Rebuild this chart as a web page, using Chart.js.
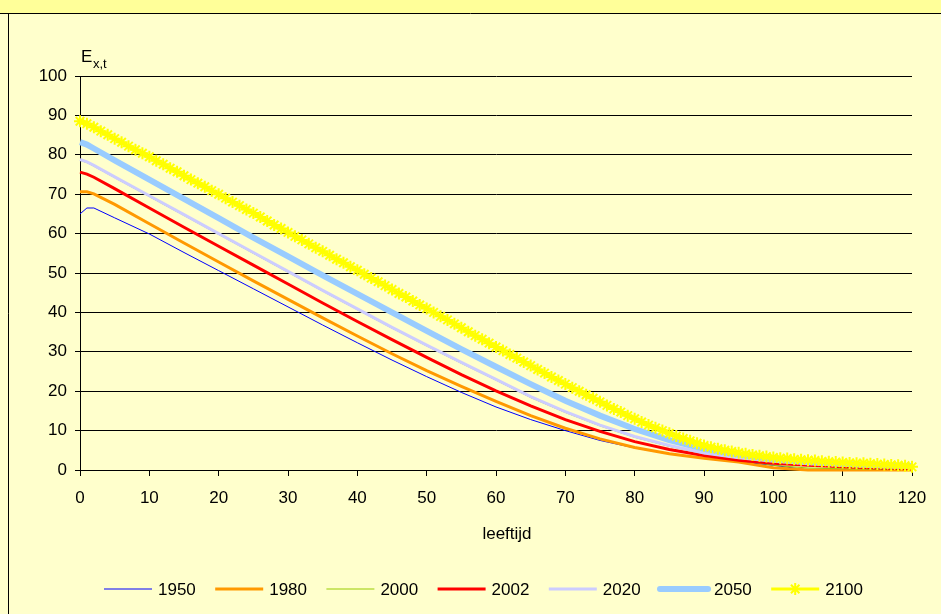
<!DOCTYPE html>
<html>
<head>
<meta charset="utf-8">
<script src="https://cdn.jsdelivr.net/npm/chart.js@4/dist/chart.umd.min.js"></script>
<style>
    html, body { margin: 0; padding: 0; background: #FFFFCC; }
    canvas { display: block; }
</style>
</head>
<body>
<canvas id="chart" width="941" height="614"></canvas>
<script>
// leeftijden (x-as)
const ages = [0, 1, 2, 5, 10, 15, 20, 25, 30, 35, 40, 45, 50, 55, 60, 65, 70, 75, 80, 85, 90, 95, 100, 105, 110, 115, 120];
const ages2100 = Array.from({ length: 121 }, (_, i) => i);

// resterende levensverwachting per jaar
const e1950 = [65.0, 66.5, 66.5, 64.0, 59.9, 55.2, 50.6, 46.0, 41.4, 36.8, 32.3, 27.9, 23.7, 19.7, 16.0, 12.8, 10.0, 7.5, 5.6, 4.1, 3.0, 2.1, 1.2, 0, 0, 0, 0];
const e1980 = [70.6, 70.6, 70.1, 67.4, 62.5, 57.6, 52.8, 48.0, 43.3, 38.6, 34.0, 29.5, 25.2, 21.2, 17.4, 13.8, 10.6, 7.9, 5.7, 4.1, 3.0, 2.0, 0.6, 0, 0, 0, 0];
const e2000 = [78.6, 78.0, 77.1, 74.2, 69.4, 64.6, 59.8, 55.0, 50.2, 45.4, 40.7, 36.0, 31.5, 27.1, 22.8, 18.4, 14.6, 11.2, 8.3, 6.0, 4.1, 2.5, 1.2, 0.5, 0.3, 0.2, 0.1];
const e2002 = [75.6, 75.1, 74.3, 71.4, 66.5, 61.6, 56.8, 52.0, 47.2, 42.4, 37.7, 33.1, 28.6, 24.2, 20.1, 16.3, 12.8, 9.8, 7.2, 5.2, 3.7, 2.5, 1.7, 1.2, 0.8, 0.5, 0.3];
const e2020 = [78.8, 78.2, 77.3, 74.4, 69.6, 64.8, 60.0, 55.2, 50.4, 45.6, 40.9, 36.2, 31.7, 27.3, 23.0, 18.6, 14.8, 11.4, 8.5, 6.2, 4.3, 3.1, 2.2, 1.6, 1.2, 0.9, 0.7];
const e2050 = [83.2, 82.6, 81.6, 78.6, 73.7, 68.8, 63.9, 59.0, 54.2, 49.4, 44.7, 40.0, 35.3, 30.7, 26.2, 21.8, 17.6, 13.8, 10.4, 7.6, 5.4, 3.9, 2.8, 2.1, 1.6, 1.2, 1.0];
const e2100 = [
    88.5, 87.9, 87.0, 86.0, 85.1, 84.1, 83.2, 82.2, 81.3, 80.4,
    79.5, 78.5, 77.6, 76.6, 75.7, 74.7, 73.7, 72.8, 71.9, 70.9,
    70.0, 69.0, 68.0, 67.1, 66.1, 65.2, 64.2, 63.2, 62.2, 61.3,
    60.3, 59.3, 58.4, 57.4, 56.4, 55.5, 54.5, 53.5, 52.6, 51.6,
    50.7, 49.7, 48.7, 47.8, 46.8, 45.8, 44.8, 43.9, 42.9, 41.9,
    41.0, 40.0, 39.0, 38.1, 37.1, 36.1, 35.1, 34.1, 33.2, 32.2,
    31.2, 30.3, 29.3, 28.4, 27.4, 26.5, 25.5, 24.6, 23.6, 22.7,
    21.8, 20.9, 20.0, 19.1, 18.2, 17.3, 16.4, 15.5, 14.7, 13.8,
    13.0, 12.2, 11.4, 10.7, 10.0, 9.3, 8.6, 8.0, 7.4, 6.8,
    6.2, 5.8, 5.4, 5.0, 4.7, 4.4, 4.1, 3.8, 3.6, 3.4,
    3.2, 3.0, 2.9, 2.7, 2.6, 2.5, 2.4, 2.2, 2.1, 2.0,
    1.9, 1.8, 1.7, 1.7, 1.6, 1.5, 1.4, 1.3, 1.2, 1.1,
    0.8
];

const seriesLabels = ['1950', '1980', '2000', '2002', '2020', '2050', '2100'];
const yTicks = [0, 10, 20, 30, 40, 50, 60, 70, 80, 90, 100];
const xTicks = [0, 10, 20, 30, 40, 50, 60, 70, 80, 90, 100, 110, 120];

const FONT = "'Liberation Sans', Arial, sans-serif";

const seriesStyle = [
    { color: '#0000FF', width: 1 },
    { color: '#FF9900', width: 3 },
    { color: '#99CC00', width: 1 },
    { color: '#FF0000', width: 3 },
    { color: '#CCCCFF', width: 3 },
    { color: '#99CCFF', width: 6 },
    { color: '#FFFF00', width: 3, star: true }
];

const seriesData = [
    [ages, e1950], [ages, e1980], [ages, e2000], [ages, e2002],
    [ages, e2020], [ages, e2050], [ages2100, e2100]
];

const datasets = seriesLabels.map((label, i) => {
    const [xs, ys] = seriesData[i];
    const st = seriesStyle[i];
    return {
        label,
        data: xs.map((x, k) => ({ x, y: ys[k] })),
        borderColor: st.color,
        backgroundColor: st.color,
        borderWidth: st.width,
        tension: 0,
        order: seriesLabels.length - i,
        clip: st.star ? false : 3,
        pointStyle: st.star ? 'star' : 'circle',
        pointRadius: st.star ? 6 : 0,
        pointBorderWidth: st.star ? 2 : 0,
        pointBorderColor: st.color,
        pointHoverRadius: st.star ? 6 : 0
    };
});

/**
 * Achtergrond, titelbalk en kader
 */
const framePlugin = {
    id: 'frame',
    beforeDraw(chart) {
        const { ctx, width, height } = chart;
        ctx.save();
        ctx.fillStyle = '#FFFFCC';
        ctx.fillRect(0, 0, width, height);
        ctx.fillStyle = '#FFFF99';
        ctx.fillRect(0, 0, width, 13);
        ctx.strokeStyle = '#000';
        ctx.lineWidth = 1;
        ctx.beginPath();
        ctx.moveTo(0, 13.5);
        ctx.lineTo(width, 13.5);
        ctx.moveTo(8.5, 13.5);
        ctx.lineTo(8.5, height);
        ctx.stroke();
        ctx.restore();
    }
};

/**
 * Aslabels en legenda
 */
const labelsPlugin = {
    id: 'labels',
    afterDraw(chart) {
        const { ctx } = chart;
        ctx.save();
        ctx.fillStyle = '#000';
        ctx.textBaseline = 'alphabetic';
        ctx.textAlign = 'left';
        ctx.font = `17px ${FONT}`;
        ctx.fillText('E', 81, 62);
        ctx.font = `13px ${FONT}`;
        ctx.fillText('x,t', 93, 68);

        ctx.font = `17px ${FONT}`;
        ctx.textAlign = 'center';
        ctx.textBaseline = 'middle';
        ctx.fillText('leeftijd', 507, 534);

        // legenda
        const y = 589;
        chart.data.datasets.forEach((ds, i) => {
            const st = seriesStyle[i];
            const x0 = 104 + i * 111.2;
            ctx.strokeStyle = st.color;
            ctx.lineWidth = st.width;
            ctx.lineCap = st.width >= 6 ? 'round' : 'butt';
            ctx.beginPath();
            ctx.moveTo(x0, y);
            ctx.lineTo(x0 + 48, y);
            ctx.stroke();
            if (st.star) {
                ctx.lineWidth = 2;
                Chart.helpers.drawPoint(ctx, { pointStyle: 'star', radius: 6, borderWidth: 2, rotation: 0 }, x0 + 24, y);
            }
            ctx.fillStyle = '#000';
            ctx.textAlign = 'left';
            ctx.fillText(ds.label, x0 + 54, y + 1);
        });
        ctx.restore();
    }
};

const ctx = document.getElementById('chart').getContext('2d');
new Chart(ctx, {
    type: 'line',
    data: { datasets },
    options: {
        responsive: false,
        animation: false,
        devicePixelRatio: 1,
        layout: { padding: { left: 0, top: 76, right: 29, bottom: 64 } },
        plugins: {
            legend: { display: false },
            tooltip: { enabled: false },
            title: { display: false }
        },
        scales: {
            x: {
                type: 'linear',
                min: 0,
                max: 120,
                afterFit: (scale) => { scale.height = 80; },
                afterBuildTicks: (scale) => { scale.ticks = xTicks.map(v => ({ value: v })); },
                grid: { drawOnChartArea: false, drawTicks: true, tickLength: 6, color: '#000' },
                border: { display: true, color: '#000', width: 1 },
                ticks: { color: '#000', font: { family: FONT, size: 17 }, padding: 12, maxRotation: 0 }
            },
            y: {
                min: 0,
                max: 100,
                afterFit: (scale) => { scale.width = 80; },
                afterBuildTicks: (scale) => { scale.ticks = yTicks.map(v => ({ value: v })); },
                grid: { color: '#000', lineWidth: 1, tickLength: 5 },
                border: { display: true, color: '#000', width: 1 },
                ticks: { color: '#000', font: { family: FONT, size: 17 }, padding: 8 }
            }
        }
    },
    plugins: [framePlugin, labelsPlugin]
});
</script>
</body>
</html>
